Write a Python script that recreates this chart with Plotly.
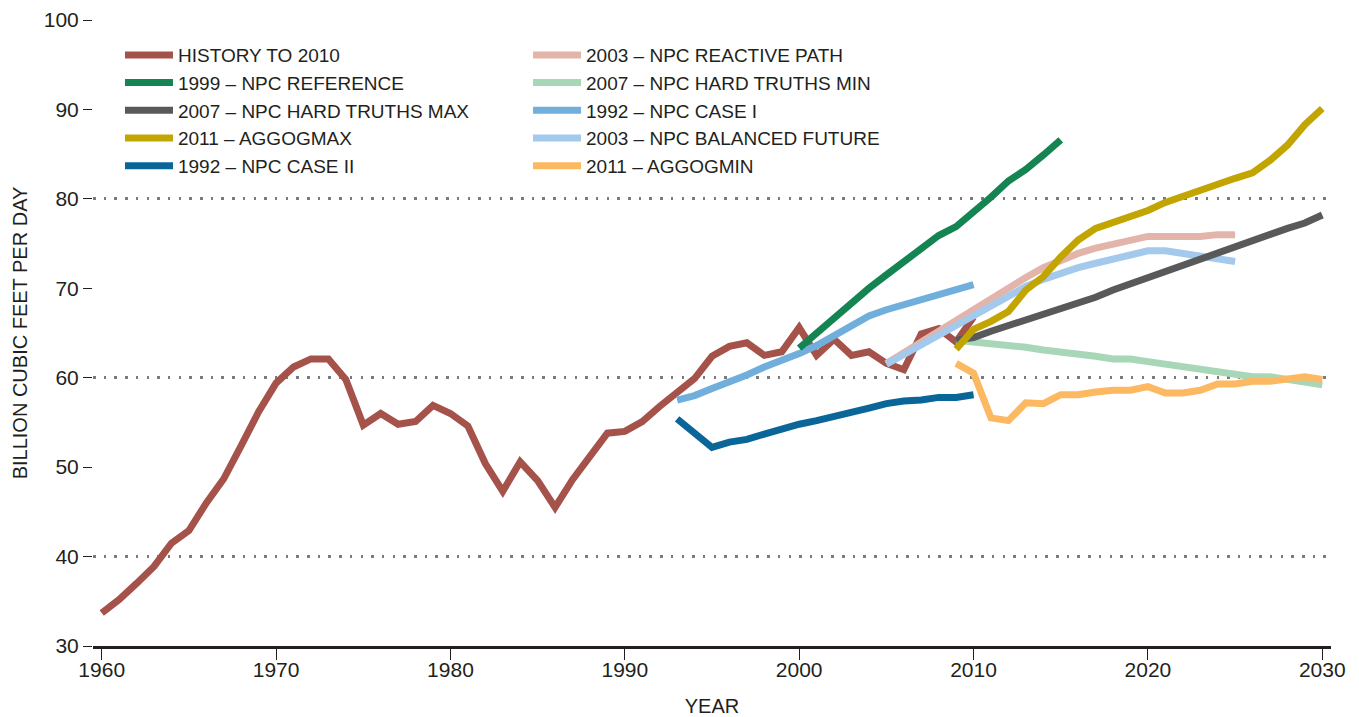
import plotly.graph_objects as go

# ---------------- data ----------------
hist_years = list(range(1960, 2011))
hist_vals = [33.7, 35.2, 37.0, 38.9, 41.5, 42.9, 46.0, 48.7, 52.4, 56.2,
             59.4, 61.2, 62.1, 62.1, 59.8, 54.7, 56.0, 54.8, 55.1, 56.9,
             56.0, 54.6, 50.4, 47.3, 50.6, 48.5, 45.5, 48.6, 51.2, 53.8,
             54.0, 55.1, 56.8, 58.3, 59.9, 62.4, 63.5, 63.9, 62.5, 62.9,
             65.6, 62.5, 64.3, 62.5, 62.9, 61.6, 60.9, 64.9, 65.5, 64.0,
             66.8]

ref1999_years = list(range(2000, 2016))
ref1999_vals = [63.3, 65.0, 66.6, 68.3, 70.0, 71.5, 73.0, 74.5, 75.9, 76.9,
                78.5, 80.2, 82.0, 83.3, 84.9, 86.6]

case1_years = list(range(1993, 2011))
case1_vals = [57.5, 58.0, 58.8, 59.5, 60.3, 61.2, 61.9, 62.7, 63.6, 64.7,
              65.8, 66.9, 67.6, 68.2, 68.8, 69.4, 69.9, 70.4]

case2_years = list(range(1993, 2011))
case2_vals = [55.4, 53.7, 52.2, 52.8, 53.1, 53.7, 54.3, 54.8, 55.2, 55.6,
              56.1, 56.6, 57.1, 57.4, 57.5, 57.8, 57.8, 58.1]

reactive_years = list(range(2005, 2026))
reactive_vals = [61.6, 62.8, 64.1, 65.3, 66.4, 67.6, 69.0, 70.1, 71.2, 72.3,
                 73.2, 73.9, 74.5, 75.0, 75.5, 75.8, 75.8, 75.8, 75.8, 76.0,
                 76.0]

balanced_years = list(range(2005, 2026))
balanced_vals = [61.5, 62.6, 63.7, 64.8, 65.8, 66.8, 68.0, 69.2, 70.2, 71.0,
                 71.7, 72.3, 72.8, 73.3, 73.8, 74.2, 74.2, 73.9, 73.6, 73.3,
                 73.0]

htmin_years = list(range(2009, 2031))
htmin_vals = [64.2, 64.0, 63.8, 63.7, 63.4, 63.1, 62.9, 62.6, 62.4, 62.1,
              62.1, 61.8, 61.5, 61.2, 60.9, 60.6, 60.3, 60.1, 60.1, 59.8,
              59.5, 59.2]

htmax_years = list(range(2009, 2031))
htmax_vals = [64.2, 64.5, 65.2, 65.8, 66.6, 67.2, 67.7, 68.4, 69.0, 69.8,
              70.5, 71.3, 72.0, 72.6, 73.3, 74.0, 74.7, 75.3, 76.1, 76.7,
              77.3, 78.2]

aggmin_years = list(range(2009, 2031))
aggmin_vals = [61.6, 60.5, 55.5, 55.2, 57.2, 57.1, 58.1, 58.1, 58.4, 58.6,
               58.6, 59.0, 58.3, 58.3, 58.6, 59.3, 59.3, 59.6, 59.6, 59.8,
               60.1, 59.8]

aggmax_years = list(range(2009, 2031))
aggmax_vals = [63.2, 65.4, 66.3, 67.4, 69.8, 71.3, 73.5, 75.4, 76.7, 77.4,
               77.9, 78.7, 79.6, 80.3, 80.9, 81.8, 82.3, 82.9, 84.3, 86.0,
               88.3, 90.1]

x_ticks = [1960, 1970, 1980, 1990, 2000, 2010, 2020, 2030]
y_ticks = [30, 40, 50, 60, 70, 80, 90, 100]
y_grid = [40, 60, 80, 100]

# (name, years, values, colour, legend, rank) in drawing order
series = [
    ("HISTORY TO 2010", hist_years, hist_vals, "#a5524a", "legend", 1),
    ("1992 – NPC CASE I", case1_years, case1_vals, "#70afdb", "legend2", 3),
    ("1992 – NPC CASE II", case2_years, case2_vals, "#0a6699", "legend", 5),
    ("1999 – NPC REFERENCE", ref1999_years, ref1999_vals, "#148552", "legend", 2),
    ("2003 – NPC REACTIVE PATH", reactive_years, reactive_vals, "#e3b5aa", "legend2", 1),
    ("2003 – NPC BALANCED FUTURE", balanced_years, balanced_vals, "#a3c9ec", "legend2", 4),
    ("2007 – NPC HARD TRUTHS MIN", htmin_years, htmin_vals, "#a8d7b8", "legend2", 2),
    ("2007 – NPC HARD TRUTHS MAX", htmax_years, htmax_vals, "#58595b", "legend", 3),
    ("2011 – AGGOGMIN", aggmin_years, aggmin_vals, "#fdb862", "legend2", 5),
    ("2011 – AGGOGMAX", aggmax_years, aggmax_vals, "#c2a500", "legend", 4),
]

FONT = "Liberation Sans, Arial, sans-serif"
TXT = "#231f20"

fig = go.Figure()
for name, xs, ys, col, leg, rank in series:
    fig.add_trace(go.Scatter(
        x=xs, y=ys, name=name, mode="lines",
        line=dict(color=col, width=7, shape="linear"),
        legend=leg, legendrank=rank,
    ))

# invisible trace to activate the overlaid label axis
fig.add_trace(go.Scatter(x=[1960], y=[30], yaxis="y2", mode="markers",
                         marker=dict(opacity=0), showlegend=False,
                         hoverinfo="skip"))

# page body adds an 8px offset, so the figure is 8px smaller than the window
fig.update_layout(
    width=1351, height=709,
    margin=dict(l=85, r=28, t=12, b=71, autoexpand=False),
    paper_bgcolor="white", plot_bgcolor="white",
    font=dict(family=FONT, color=TXT),
    xaxis=dict(
        range=[1959.5, 2030.5], tickvals=x_ticks,
        ticks="outside", ticklen=11, tickwidth=1.2, tickcolor=TXT,
        showline=True, linewidth=3, linecolor=TXT,
        showgrid=False, zeroline=False,
        tickfont=dict(size=21, color=TXT), ticklabelstandoff=-8,
        title=dict(text="YEAR", font=dict(size=20, color=TXT), standoff=27),
        automargin=False,
    ),
    yaxis=dict(
        range=[30, 100], tickvals=y_grid, showticklabels=False, ticks="",
        showgrid=True, gridcolor="#7a7b7e", gridwidth=2.5,
        griddash="2.5px,8.2px", zeroline=False, showline=False,
        title=dict(text=""), automargin=False,
    ),
    yaxis2=dict(
        range=[30, 100], overlaying="y", side="left", anchor="x",
        tickvals=y_ticks, ticks="outside", ticklen=9, tickwidth=1.2,
        tickcolor=TXT, showgrid=False, zeroline=False, showline=False,
        tickfont=dict(size=21, color=TXT),
        title=dict(text="BILLION CUBIC FEET PER DAY",
                   font=dict(size=20, color=TXT), standoff=10),
        automargin=False,
    ),
    legend=dict(
        xref="paper", yref="paper", x=0.0218, y=0.9744,
        xanchor="left", yanchor="top", orientation="v",
        bgcolor="rgba(0,0,0,0)", borderwidth=0,
        font=dict(size=19, color=TXT, family=FONT), itemwidth=48,
        traceorder="normal",
    ),
    legend2=dict(
        xref="paper", yref="paper", x=0.3514, y=0.9744,
        xanchor="left", yanchor="top", orientation="v",
        bgcolor="rgba(0,0,0,0)", borderwidth=0,
        font=dict(size=19, color=TXT, family=FONT), itemwidth=48,
        traceorder="normal",
    ),
    showlegend=True,
)

fig.write_html("out.html")
